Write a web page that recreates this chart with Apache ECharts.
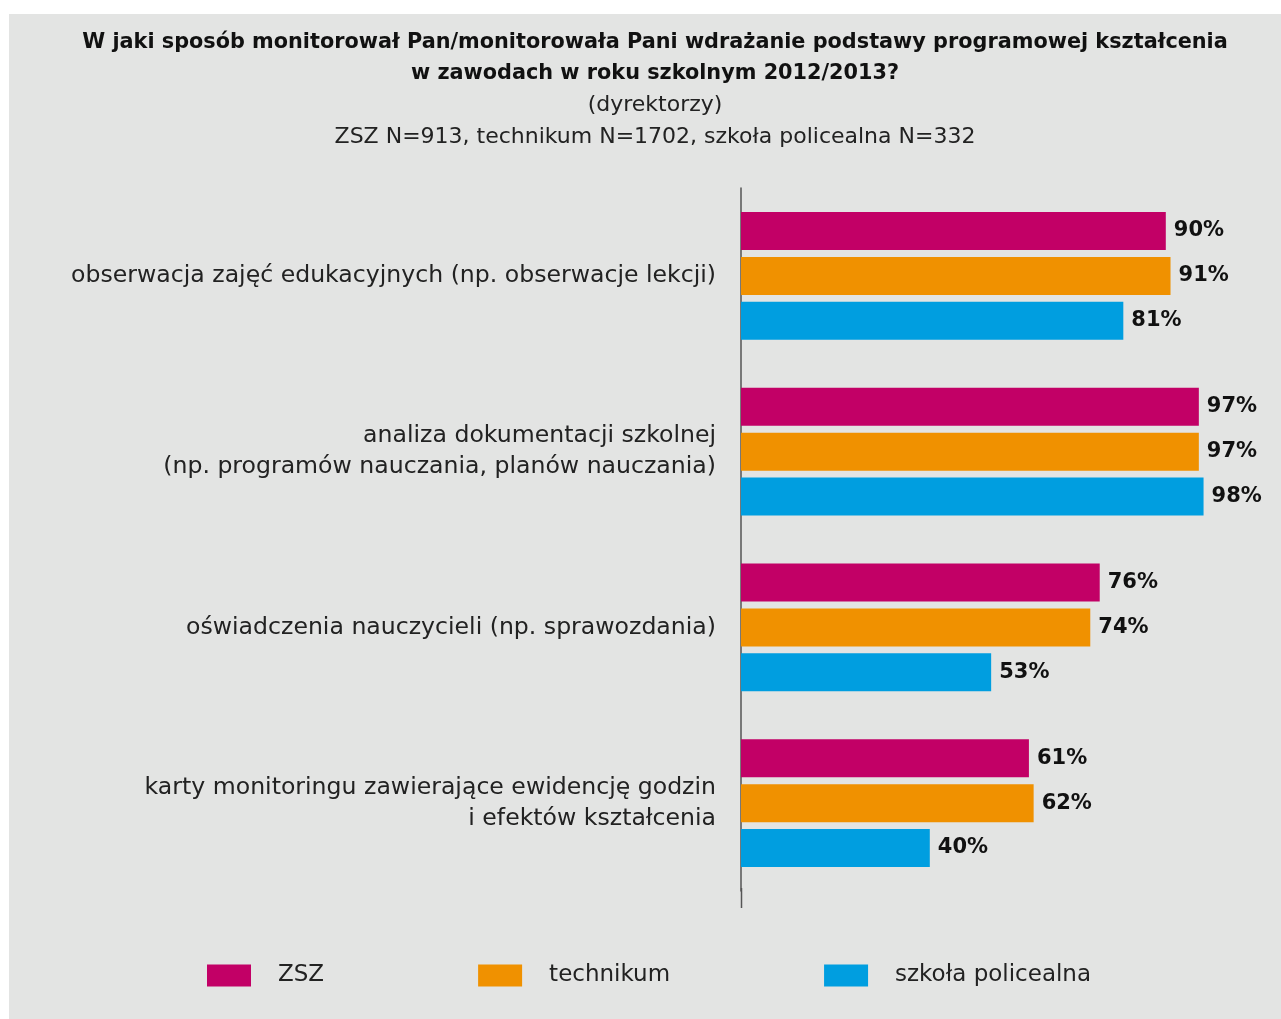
<!DOCTYPE html>
<html>
<head>
<meta charset="utf-8">
<script src="https://cdn.jsdelivr.net/npm/echarts@6/dist/echarts.min.js"></script>
<style>
  html, body { margin: 0; padding: 0; background: #ffffff; }
  #chart { width: 1281px; height: 1019px; }
</style>
</head>
<body>
<div id="chart"></div>
<script>
// Survey answers (percent of principals) per monitoring method
const categories = [
  'obserwacja zajęć edukacyjnych (np. obserwacje lekcji)',
  'analiza dokumentacji szkolnej\n(np. programów nauczania, planów nauczania)',
  'oświadczenia nauczycieli (np. sprawozdania)',
  'karty monitoringu zawierające ewidencję godzin\ni efektów kształcenia'
];
const seriesNames = ['ZSZ', 'technikum', 'szkoła policealna'];
const zszValues = [90, 97, 76, 61];
const technikumValues = [91, 97, 74, 62];
const policealnaValues = [81, 98, 53, 40];

const colors = ['#c20066', '#f09100', '#009ee0'];
const FONT = '"DejaVu Sans", sans-serif';

const chart = echarts.init(document.getElementById('chart'), null, { renderer: 'canvas' });

function barSeries(name, data, color) {
  return {
    name: name,
    type: 'bar',
    data: data,
    barWidth: 38,
    barGap: '18%',
    itemStyle: { color: color },
    label: {
      show: true,
      position: 'right',
      distance: 8,
      formatter: '{c}%',
      fontFamily: FONT,
      fontWeight: 'bold',
      fontSize: 21,
      color: '#111'
    }
  };
}

chart.setOption({
  backgroundColor: '#ffffff',
  animation: false,
  graphic: [
    { type: 'rect', z: -10, shape: { x: 9, y: 14, width: 1272, height: 1005 }, style: { fill: '#e3e4e3' } },
    { type: 'line', z: 5, shape: { x1: 741.5, y1: 888, x2: 741.5, y2: 908 }, style: { stroke: '#555', lineWidth: 1.5 } }
  ],
  title: [
    {
      text: 'W jaki sposób monitorował Pan/monitorowała Pani wdrażanie podstawy programowej kształcenia\nw zawodach w roku szkolnym 2012/2013?',
      left: 650, top: 22, textAlign: 'center',
      textStyle: { fontFamily: FONT, fontWeight: 'bold', fontSize: 20.8, lineHeight: 31, color: '#111' }
    },
    {
      text: '(dyrektorzy)\nZSZ N=913, technikum N=1702, szkoła policealna N=332',
      left: 650, top: 84, textAlign: 'center',
      textStyle: { fontFamily: FONT, fontWeight: 'normal', fontSize: 22, lineHeight: 32, color: '#222' }
    }
  ],
  legend: {
    data: seriesNames,
    left: 207, top: 964, padding: 0,
    itemWidth: 44, itemHeight: 22, itemGap: 154,
    icon: 'rect',
    textStyle: { fontFamily: FONT, fontSize: 23, color: '#222', padding: [0, 0, 0, 22] }
  },
  grid: { left: 741, top: 188, width: 472, height: 703 },
  xAxis: {
    type: 'value', min: 0, max: 100,
    show: false
  },
  yAxis: {
    type: 'category',
    data: categories,
    inverse: true,
    axisLine: { show: true, lineStyle: { color: '#555', width: 1.5 } },
    axisTick: { show: false },
    axisLabel: {
      margin: 25,
      fontFamily: FONT, fontSize: 23.6, lineHeight: 31, color: '#222',
      align: 'right'
    }
  },
  series: [
    barSeries(seriesNames[0], zszValues, colors[0]),
    barSeries(seriesNames[1], technikumValues, colors[1]),
    barSeries(seriesNames[2], policealnaValues, colors[2])
  ]
});
</script>
</body>
</html>
